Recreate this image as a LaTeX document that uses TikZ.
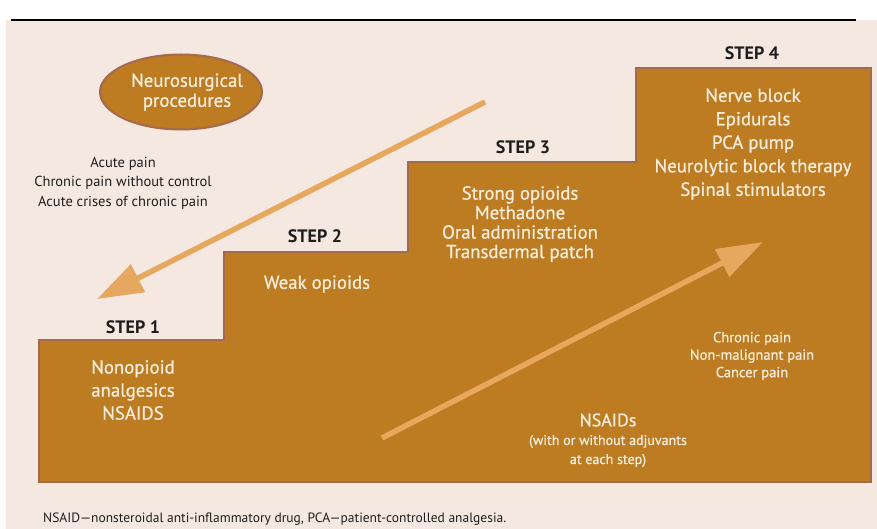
\documentclass[tikz,border=0pt]{standalone}
\usepackage{fontspec}
\setmainfont{PT Sans}
\newfontfamily\medfont[FakeBold=0.8]{PT Sans}
\usetikzlibrary{arrows.meta,shapes.geometric}
\definecolor{bgbeige}{HTML}{F5E8E0}
\definecolor{stepfill}{HTML}{BD7B22}
\definecolor{stepedge}{HTML}{A5694F}
\definecolor{arrowc}{HTML}{E6A75E}
\definecolor{cream}{HTML}{F8EDDC}
\definecolor{darktext}{HTML}{1E1E1E}
\tikzset{
  steplabel/.style={font=\fontsize{18}{20}\selectfont\bfseries, text=darktext, inner sep=0pt},
  content/.style={font=\medfont\fontsize{18.8}{23.5}\selectfont, text=cream, align=center, inner sep=0pt},
  smalldark/.style={font=\fontsize{14.5}{19.5}\selectfont, text=darktext, align=center, inner sep=0pt},
  smallcream/.style={font=\medfont\fontsize{14.5}{17.5}\selectfont, text=cream, align=center, inner sep=0pt},
  bigarrow/.style={draw=arrowc, line width=5.5pt, -{Triangle[length=46pt,width=30pt]}},
  stairs/.style={fill=stepfill, draw=stepedge, line width=2pt},
}
\begin{document}
\begin{tikzpicture}[x=1pt,y=-1pt]
\useasboundingbox (0,0) rectangle (877,529);
\fill[white] (0,0) rectangle (877,529);
\fill[bgbeige] (6,20) rectangle (877,529);
\draw[line width=2.5pt] (11,20) -- (856,20);

% staircase
\draw[stairs] (39,340) -- (224,340) -- (224,252) -- (408,252) -- (408,162)
  -- (636,162) -- (636,68) -- (871,68) -- (871,482) -- (39,482) -- cycle;

% ellipse
\node[ellipse, stairs, minimum width=162pt, minimum height=75pt, inner sep=0pt] (neuro) at (181,92) {};
\node[content, font=\medfont\fontsize{18.8}{20}\selectfont] (neurotext) at (187,92) {Neurosurgical\\procedures};

% left text
\node[smalldark] (acute) at (123,183) {Acute pain\\Chronic pain without control\\Acute crises of chronic pain};

% step labels
\node[steplabel] (s1) at (133,327) {STEP 1};
\node[steplabel] (s2) at (315,236) {STEP 2};
\node[steplabel] (s3) at (523,147) {STEP 3};
\node[steplabel] (s4) at (752,53) {STEP 4};

% step contents
\node[content, font=\medfont\fontsize{18.8}{23}\selectfont] (c1) at (133,390) {Nonopioid\\analgesics\\NSAIDS};
\node[content] (c2) at (317,284) {Weak opioids};
\node[content, font=\medfont\fontsize{18.8}{19.5}\selectfont] (c3) at (520,224) {Strong opioids\\Methadone\\Oral administration\\Transdermal patch};
\node[content] (c4) at (753,144) {Nerve block\\Epidurals\\PCA pump\\Neurolytic block therapy\\Spinal stimulators};

% right text
\node[smallcream] (chronic) at (752,356) {Chronic pain\\Non-malignant pain\\Cancer pain};

% NSAIDs
\node[content, font=\medfont\fontsize{18}{20}\selectfont] (nsaid) at (608,420) {NSAIDs};
\node[smallcream, font=\medfont\fontsize{14}{19}\selectfont] (adj) at (608,451) {(with or without adjuvants\\at each step)};

% arrows
\coordinate (a1s) at (485,102);
\coordinate (a1e) at (97,299);
\draw[bigarrow] (a1s) -- (a1e);
\coordinate (a2s) at (382,438);
\coordinate (a2e) at (763,242);
\draw[bigarrow] (a2s) -- (a2e);

% caption
\node[anchor=west, font=\fontsize{13.5}{15}\selectfont, text=darktext, inner sep=0pt] (caption) at (43,519)
  {NSAID---nonsteroidal anti-inflammatory drug, PCA---patient-controlled analgesia.};
\end{tikzpicture}
\end{document}
